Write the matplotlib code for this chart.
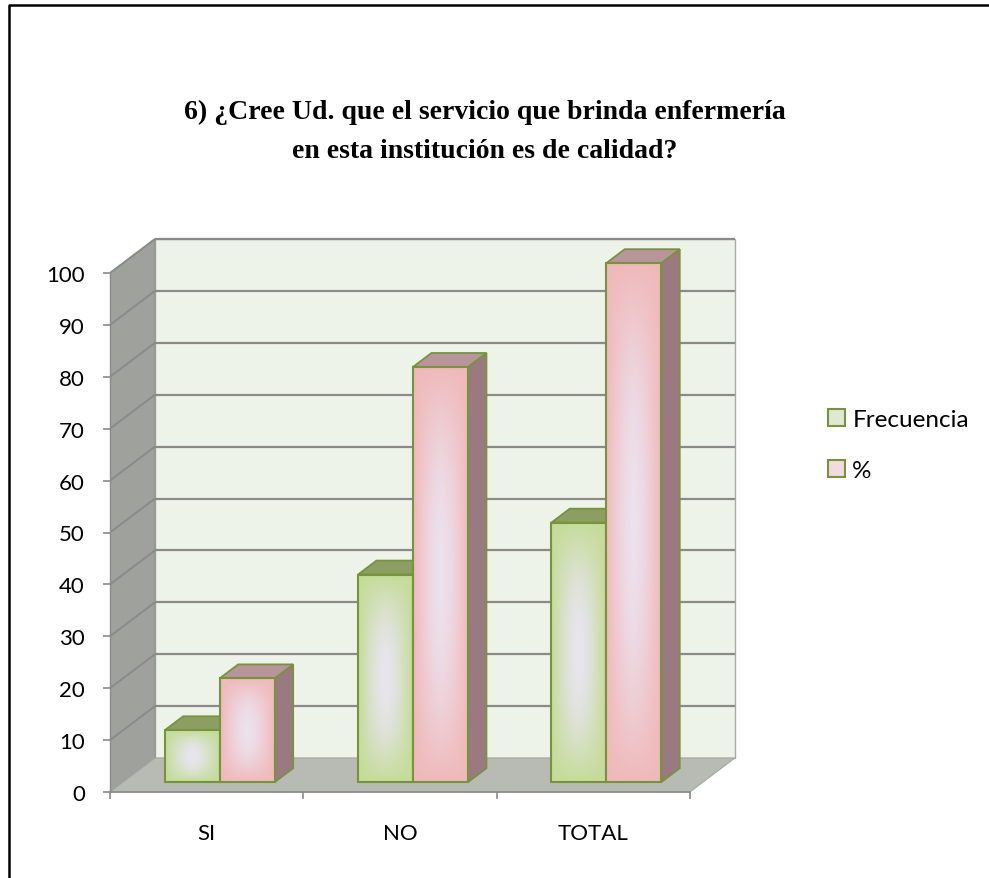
import numpy as np
import matplotlib
matplotlib.use("Agg")
import matplotlib.pyplot as plt
from matplotlib.patches import Polygon, Rectangle, Patch
from matplotlib.lines import Line2D

# ---------------- data ----------------
categories = ["SI", "NO", "TOTAL"]
frecuencia = [10, 40, 50]
porcentaje = [20, 80, 100]
series_names = ["Frecuencia", "%"]
yticks = list(range(0, 101, 10))
title_lines = ["6) ¿Cree Ud. que el servicio que brinda enfermería",
               "en esta institución es de calidad?"]

# ---------------- style ----------------
W, H = 989, 879
fig = plt.figure(figsize=(W / 100, H / 100), dpi=100)
fig.patch.set_facecolor("white")

# axes placement (pixels)
PX_CAT = 193.3          # pixels per category
PX_UNIT = 5.19          # pixels per value unit
AX_L, AX_R, AX_B, AX_T = 110, 760, 800, 225
Y0_PX = 793             # pixel of value 0
ax = fig.add_axes([AX_L / W, 1 - AX_B / H, (AX_R - AX_L) / W, (AX_B - AX_T) / H])
XLIM = (0, (AX_R - AX_L) / PX_CAT)
YLIM = (-(AX_B - Y0_PX) / PX_UNIT, (Y0_PX - AX_T) / PX_UNIT)
ax.patch.set_alpha(0)

DXF = 45 / PX_CAT       # full depth offset in x (data units)
DYF = 34 / PX_UNIT      # full depth offset in y (data units)
F0, F1 = 0.29, 0.70     # bar depth range (fraction of full depth)
BW = 55 / PX_CAT        # bar width
ncat = len(categories)

wall_col = "#eef3e9"
side_wall = "#9fa29c"
floor_col = "#b8bab4"
grid_col = "#8a8a8a"
edge_col = "#77933c"

# back wall
ax.add_patch(Polygon([(DXF, DYF), (ncat + DXF, DYF), (ncat + DXF, 100 + DYF), (DXF, 100 + DYF)],
                     closed=True, facecolor=wall_col, edgecolor="#a8aaa6", lw=1.0, zorder=1))
# left wall
ax.add_patch(Polygon([(0, 0), (DXF, DYF), (DXF, 100 + DYF), (0, 100)],
                     closed=True, facecolor=side_wall, edgecolor="#8f928c", lw=0.8, zorder=1))
# floor
ax.add_patch(Polygon([(0, 0), (ncat, 0), (ncat + DXF, DYF), (DXF, DYF)],
                     closed=True, facecolor=floor_col, edgecolor="#a5a7a2", lw=0.8, zorder=1))

# gridlines
for v in yticks[1:]:
    ax.plot([DXF, ncat + DXF], [v + DYF, v + DYF], color=grid_col, lw=1.6, zorder=2,
            solid_capstyle="butt")
    ax.plot([0, DXF], [v, v + DYF], color=grid_col, lw=1.4, zorder=2, solid_capstyle="butt")


def grad_img(center, edge, n=120, m=60):
    c = np.array(matplotlib.colors.to_rgb(center))
    e = np.array(matplotlib.colors.to_rgb(edge))
    v, u = np.meshgrid(np.linspace(-1, 1, n), np.linspace(-1, 1, m), indexing="ij")
    t = 1 - (1 - np.abs(u) ** 1.6) * (1 - np.abs(v) ** 2.2)
    t = np.clip(t, 0, 1) ** 0.9
    img = c[None, None, :] * (1 - t[..., None]) + e[None, None, :] * t[..., None]
    return img


styles = [
    dict(center="#e9e5f0", edge="#c4dc98", top="#8d9e63", side="#7f9456"),
    dict(center="#ece2ee", edge="#f0b9ba", top="#b8949b", side="#9a7a80"),
]

ddx = (F1 - F0) * DXF
ddy = (F1 - F0) * DYF
z = 5
for i in range(ncat):
    c = i + 0.5 + F0 * DXF
    base = F0 * DYF
    for s, vals in enumerate([frecuencia, porcentaje]):
        st = styles[s]
        x0 = c - BW + s * BW
        x1 = x0 + BW
        top = vals[i] + base
        # side face
        ax.add_patch(Polygon([(x1, base), (x1, top), (x1 + ddx, top + ddy), (x1 + ddx, base + ddy)],
                             closed=True, facecolor=st["side"], edgecolor=edge_col, lw=1.3, zorder=z))
        # top face
        ax.add_patch(Polygon([(x0, top), (x1, top), (x1 + ddx, top + ddy), (x0 + ddx, top + ddy)],
                             closed=True, facecolor=st["top"], edgecolor=edge_col, lw=1.3, zorder=z))
        # front face gradient
        hpx = vals[i] * PX_UNIT
        img = grad_img(st["center"], st["edge"], n=max(int(hpx), 10), m=55)
        ax.imshow(img, extent=[x0, x1, base, top], origin="lower", aspect="auto",
                  interpolation="bilinear", zorder=z + 0.5)
        ax.add_patch(Rectangle((x0, base), BW, vals[i], facecolor="none",
                               edgecolor=edge_col, lw=1.5, zorder=z + 0.6))
        z += 1

ax.set_xlim(*XLIM)
ax.set_ylim(*YLIM)

# axes / ticks
for sp in ["top", "right"]:
    ax.spines[sp].set_visible(False)
ax.spines["left"].set_bounds(0, 100)
ax.spines["left"].set_color("#8a8a8a")
ax.spines["left"].set_linewidth(1.0)
ax.spines["bottom"].set_position(("data", 0))
ax.spines["bottom"].set_bounds(0, ncat)
ax.spines["bottom"].set_color("#8a8a8a")
ax.spines["bottom"].set_linewidth(1.2)

tick_font = "Lato"
ax.set_yticks(yticks)
ax.set_yticklabels([str(t) for t in yticks], fontsize=16, family=tick_font)
ax.tick_params(axis="y", length=5, width=1.2, color="#8a8a8a", pad=13)

ax.set_xticks(range(ncat + 1))
ax.set_xticklabels([""] * (ncat + 1))
ax.tick_params(axis="x", which="major", length=5, width=1.2, color="#8a8a8a", direction="out")
ax.set_xticks([i + 0.5 for i in range(ncat)], minor=True)
ax.set_xticklabels(categories, minor=True, fontsize=16, family=tick_font)
ax.tick_params(axis="x", which="minor", length=0, pad=22)

# title
fig.text(485 / W, 1 - 112 / H, title_lines[0], ha="center", va="center",
         family="Liberation Serif", fontweight="bold", fontsize=20)
fig.text(485 / W, 1 - 152 / H, title_lines[1], ha="center", va="center",
         family="Liberation Serif", fontweight="bold", fontsize=20)

# legend
handles = [Patch(facecolor="#dfe8d3", edgecolor=edge_col, lw=1.5),
           Patch(facecolor="#f0dbe0", edgecolor=edge_col, lw=1.5)]
fig.legend(handles, series_names, loc="upper left", bbox_to_anchor=(828 / W, 1 - 410 / H),
           frameon=False, handlelength=0.7, handleheight=0.7, handletextpad=0.3,
           labelspacing=1.25, borderaxespad=0, borderpad=0,
           prop=dict(family=tick_font, size=17.5))

# outer frame (top and left edges)
fig.add_artist(Line2D([9 / W, 9 / W, 1], [0, 1 - 6 / H, 1 - 6 / H], color="black", lw=1.8,
                      transform=fig.transFigure))

fig.savefig("out.png", dpi=100)
